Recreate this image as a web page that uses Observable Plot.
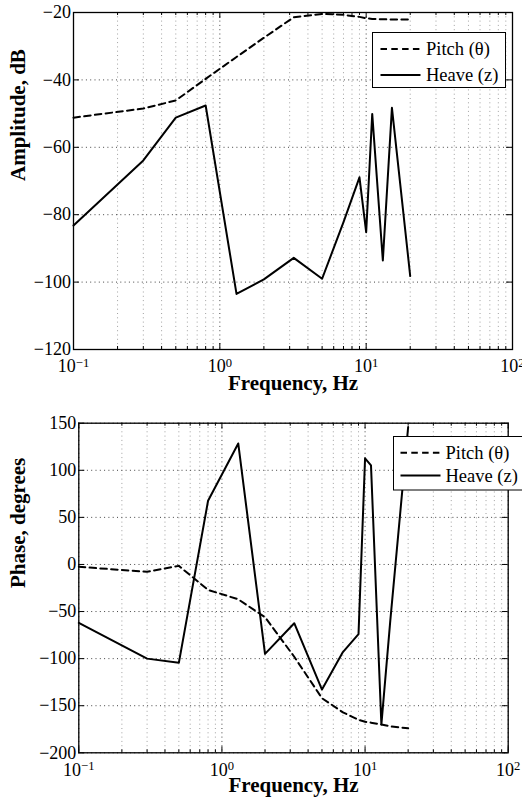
<!DOCTYPE html>
<html><head><meta charset="utf-8">
<script src="https://cdn.jsdelivr.net/npm/d3@7"></script>
<script src="https://cdn.jsdelivr.net/npm/@observablehq/plot@0.6"></script>
<style>
html,body{margin:0;padding:0;background:#fff;overflow:hidden;}
#wrap{position:relative;width:522px;height:803px;font-family:"Liberation Serif","Times New Roman",serif;}
.panel{position:absolute;left:0;}
.legend{position:absolute;overflow:visible;}
.legend text{font-family:"Liberation Serif","Times New Roman",serif;font-size:18.5px;fill:#000;}
</style></head><body><div id="wrap"></div>
<script>
// ---- data ----
const freqs = [0.1, 0.3, 0.5, 0.8, 1.3, 2, 3.2, 5, 7, 9, 10, 11, 13, 15, 20];
const pitchAmp = [-51.2, -48.5, -46.1, -39.7, -33.2, -27.5, -21.4, -20.4, -20.7, -21.3, -21.7, -21.9, -22.0, -22.1, -22.1];
const heaveAmp = [-83.2, -63.9, -51.2, -47.6, -103.5, -99.2, -92.8, -99.0, -82.2, -68.9, -85.2, -50.1, -93.6, -48.3, -98.2];
const pitchPhase = [-2.5, -7.8, -1.5, -27, -37, -56, -98, -142, -157, -165, -167, -168, -170, -172, -174];
const heavePhase = [-62, -100, -104.5, 67.6, 128.5, -95, -62.4, -132.8, -93, -74, 112.7, 105.3, -170, -60, 146];
const xMajor = [0.1, 1, 10, 100];
const ampTicks = [-120, -100, -80, -60, -40, -20];
const phaseTicks = [-200, -150, -100, -50, 0, 50, 100, 150];
const xLabel = "Frequency, Hz";
const ampLabel = "Amplitude, dB";
const phaseLabel = "Phase, degrees";
const seriesNames = ["Pitch (\u03B8)", "Heave (z)"];

const xMinor = [];
for (const d of [0.1, 1, 10]) for (let k = 2; k <= 9; k++) xMinor.push(+(d * k).toPrecision(3));

const FONT = "Liberation Serif, Times New Roman, serif";

function panel({top, height, mt, mb, ml, mr, yDomain, yTicks, yLabel, yLabelDx, xLabelDy, tickPad, pitch, heave}) {
  const W = 522 - ml - mr, H = height - mt - mb;
  const dots = "1,3.3";
  const svg = Plot.plot({
    width: 522, height,
    marginTop: mt, marginBottom: mb, marginLeft: ml, marginRight: mr,
    style: {fontFamily: FONT, fontSize: "18px", background: "transparent", overflow: "visible", color: "#000"},
    x: {type: "log", domain: [0.1, 100]},
    y: {domain: yDomain},
    marks: [
      Plot.ruleX(xMinor, {x: d => d, stroke: "#a0a0a0", strokeDasharray: dots, strokeWidth: 1}),
      Plot.ruleX(xMajor, {x: d => d, stroke: "#444", strokeDasharray: dots, strokeWidth: 1}),
      Plot.ruleY(yTicks, {y: d => d, stroke: "#444", strokeDasharray: dots, strokeWidth: 1}),
      Plot.tickX(xMajor, {x: d => d, insetTop: H - 6, stroke: "#000"}),
      Plot.tickX(xMajor, {x: d => d, insetBottom: H - 6, stroke: "#000"}),
      Plot.tickX(xMinor, {x: d => d, insetTop: H - 3, stroke: "#000"}),
      Plot.tickX(xMinor, {x: d => d, insetBottom: H - 3, stroke: "#000"}),
      Plot.tickY(yTicks, {y: d => d, insetRight: W - 6, stroke: "#000"}),
      Plot.tickY(yTicks, {y: d => d, insetLeft: W - 6, stroke: "#000"}),
      Plot.axisX(xMajor, {tickSize: 0, tickPadding: tickPad, label: null, fontSize: 18,
        tickFormat: d => "10^" + Math.round(Math.log10(d))}),
      Plot.axisY(yTicks, {tickSize: 0, tickPadding: 2.5, label: null, fontSize: 18}),
      Plot.line(freqs, {x: freqs, y: pitch, stroke: "#000", strokeWidth: 2, strokeDasharray: "6.5,4.3"}),
      Plot.line(freqs, {x: freqs, y: heave, stroke: "#000", strokeWidth: 2}),
      Plot.frame({stroke: "#000", strokeWidth: 1.3}),
      Plot.text([xLabel], {frameAnchor: "bottom", dy: xLabelDy, fontWeight: "bold", fontSize: 21, fill: "#000"}),
      Plot.text([yLabel], {frameAnchor: "left", dx: yLabelDx, rotate: -90, fontWeight: "bold", fontSize: 21, fill: "#000"})
    ]
  });
  // superscript exponents on the x tick labels
  svg.querySelectorAll('g[aria-label="x-axis tick label"] text').forEach(t => {
    const s = t.textContent;
    if (s.includes("^")) {
      const [b, e] = s.split("^");
      t.textContent = b;
      const ts = document.createElementNS("http://www.w3.org/2000/svg", "tspan");
      ts.setAttribute("dy", "-0.45em");
      ts.setAttribute("font-size", "0.7em");
      ts.textContent = e.replace("-", "\u2212");
      t.appendChild(ts);
    }
  });
  svg.classList.add("panel");
  svg.style.position = "absolute";
  svg.style.top = top + "px";
  svg.style.left = "0px";
  return svg;
}

function legend({left, top, width, height, lx1, lx2, tx, y1, y2}) {
  const ns = "http://www.w3.org/2000/svg";
  const g = document.createElementNS(ns, "svg");
  g.setAttribute("class", "legend");
  g.setAttribute("width", width + 2);
  g.setAttribute("height", height + 2);
  g.style.left = left + "px";
  g.style.top = top + "px";
  const mk = (tag, attrs, txt) => {
    const el = document.createElementNS(ns, tag);
    for (const k in attrs) el.setAttribute(k, attrs[k]);
    if (txt) el.textContent = txt;
    g.appendChild(el);
    return el;
  };
  mk("rect", {x: 0.5, y: 0.5, width, height, fill: "#fff", stroke: "#000", "stroke-width": 1});
  mk("line", {x1: lx1, x2: lx2, y1: y1, y2: y1, stroke: "#000", "stroke-width": 2, "stroke-dasharray": "6.5,4.3"});
  mk("line", {x1: lx1, x2: lx2, y1: y2, y2: y2, stroke: "#000", "stroke-width": 2});
  mk("text", {x: tx, y: y1 + 6.2}, seriesNames[0]);
  mk("text", {x: tx, y: y2 + 6.2}, seriesNames[1]);
  return g;
}

const wrap = document.getElementById("wrap");
wrap.appendChild(panel({top: 0, height: 400, mt: 12, mb: 51, ml: 73, mr: 10,
  yDomain: [-120, -20], yTicks: ampTicks, yLabel: ampLabel, yLabelDx: -55, xLabelDy: 40.5, tickPad: 10,
  pitch: pitchAmp, heave: heaveAmp}));
wrap.appendChild(panel({top: 400, height: 403, mt: 22.7, mb: 50.7, ml: 78.3, mr: 14.3,
  yDomain: [-200, 150], yTicks: phaseTicks, yLabel: phaseLabel, yLabelDx: -61, xLabelDy: 39.5, tickPad: 10,
  pitch: pitchPhase, heave: heavePhase}));
wrap.appendChild(legend({left: 371.5, top: 32, width: 133, height: 55, lx1: 8.5, lx2: 48.5, tx: 54, y1: 17, y2: 43}));
wrap.appendChild(legend({left: 392.5, top: 435.5, width: 136, height: 53.5, lx1: 7.5, lx2: 47.5, tx: 52.5, y1: 16.8, y2: 39.5}));
</script></body></html>
